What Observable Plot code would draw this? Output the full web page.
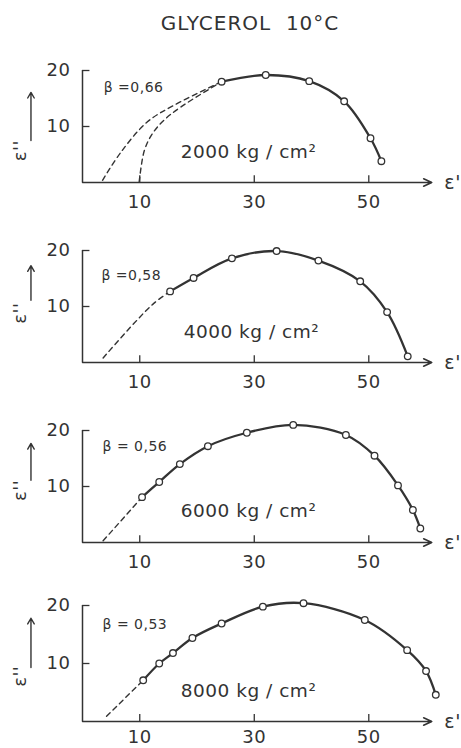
<!DOCTYPE html>
<html><head><meta charset="utf-8">
<script src="https://cdn.jsdelivr.net/npm/d3@7"></script>
<script src="https://cdn.jsdelivr.net/npm/@observablehq/plot@0.6"></script>
<style>
body{margin:0;background:#fff;width:461px;font-family:"DejaVu Sans",sans-serif;}
#title{height:50px;text-align:center;font-size:20px;letter-spacing:1px;color:#333;line-height:1;padding-top:13px;box-sizing:border-box;padding-left:39px;}
svg{display:block;overflow:visible}
svg text{letter-spacing:0.5px}
</style></head><body>
<div id="title">GLYCEROL&nbsp;&nbsp;10°C</div>
<div id="chart"></div>
<script>
// ---- data ----
const xTicks = [10, 30, 50];
const yTicks = [10, 20];
const pressures = ["2000 kg / cm²", "4000 kg / cm²", "6000 kg / cm²", "8000 kg / cm²"];
const betas = ["β =0,66", "β =0,58", "β = 0,56", "β = 0,53"];

// measured points (ε', ε'')
const e1_2000 = [24.3, 32.0, 39.6, 45.7, 50.3, 52.2];
const e2_2000 = [18.0, 19.2, 18.1, 14.5, 7.9, 3.8];
const e1_4000 = [15.3, 19.4, 26.1, 33.9, 41.2, 48.5, 53.2, 56.8];
const e2_4000 = [12.7, 15.1, 18.6, 19.9, 18.2, 14.5, 9.0, 1.1];
const e1_6000 = [10.4, 13.4, 17.0, 21.9, 28.7, 36.8, 46.0, 51.0, 55.1, 57.7, 59.0];
const e2_6000 = [8.1, 10.8, 14.0, 17.2, 19.6, 21.0, 19.2, 15.5, 10.2, 5.8, 2.5];
const e1_8000 = [10.6, 13.4, 15.8, 19.2, 24.3, 31.5, 38.6, 49.3, 56.7, 60.0, 61.7];
const e2_8000 = [7.1, 10.0, 11.8, 14.4, 16.9, 19.8, 20.4, 17.5, 12.3, 8.7, 4.6];

// dashed extrapolations
const dA_2000_e1 = [3.5, 6.7, 11.3, 16.0, 24.3];
const dA_2000_e2 = [0.4, 5.4, 10.8, 13.8, 18.0];
const dB_2000_e1 = [9.9, 10.8, 12.2, 14.2, 17.2, 24.3];
const dB_2000_e2 = [0.1, 5.7, 8.7, 11.1, 13.5, 18.0];
const d_4000_e1 = [3.6, 9.0, 12.5, 15.3];
const d_4000_e2 = [0.8, 7.0, 10.6, 12.7];
const d_6000_e1 = [3.6, 10.4];
const d_6000_e2 = [0.3, 8.1];
const d_8000_e1 = [4.2, 10.6];
const d_8000_e2 = [0.9, 7.1];

// ---- assembly ----
const panels = [
  {e1: e1_2000, e2: e2_2000, dashes: [[dA_2000_e1, dA_2000_e2], [dB_2000_e1, dB_2000_e2]], label: pressures[0], beta: betas[0]},
  {e1: e1_4000, e2: e2_4000, dashes: [[d_4000_e1, d_4000_e2]], label: pressures[1], beta: betas[1]},
  {e1: e1_6000, e2: e2_6000, dashes: [[d_6000_e1, d_6000_e2]], label: pressures[2], beta: betas[2]},
  {e1: e1_8000, e2: e2_8000, dashes: [[d_8000_e1, d_8000_e2]], label: pressures[3], beta: betas[3]}
];
const layout = [
  {height: 180, mt: 20, mb: 48, pad: 13, kg: [29, 5.5], bt: [3.7, 17.0], ylab: 5.7, arr: [7.5, 16.1]},
  {height: 180, mt: 20, mb: 48, pad: 13, kg: [29.5, 5.5], bt: [3.3, 15.5], ylab: 8.8, arr: [11.1, 17.3]},
  {height: 180, mt: 20, mb: 48, pad: 13, kg: [29, 5.7], bt: [3.5, 17.2], ylab: 9.3, arr: [11.1, 17.7]},
  {height: 158, mt: 15, mb: 27, pad: 9, kg: [29, 5.2], bt: [3.5, 16.7], ylab: 7.8, arr: [9.3, 17.8]}
];
const ink = "#333";
const chart = document.getElementById("chart");

panels.forEach((p, k) => {
  const L = layout[k];
  const idx = d3.range(p.e1.length);
  const marks = [
    Plot.ruleX([0], {y1: 0, y2: 20, stroke: ink, strokeWidth: 1.5}),
    Plot.arrow([0], {x1: 0, x2: 61, y1: 0, y2: 0, stroke: ink, strokeWidth: 1.5, headLength: 9, headAngle: 50}),
    Plot.ruleX(xTicks, {x: d => d, y1: 0, y2: 1.2, stroke: ink, strokeWidth: 1.3}),
    Plot.ruleY(yTicks, {y: d => d, x1: 0, x2: 1.3, stroke: ink, strokeWidth: 1.3}),
    ...p.dashes.map(([a, b]) => Plot.line(d3.range(a.length), {x: i => a[i], y: i => b[i], stroke: ink, strokeWidth: 1.4, strokeDasharray: "5,4", curve: "catmull-rom"})),
    Plot.line(idx, {x: i => p.e1[i], y: i => p.e2[i], stroke: ink, strokeWidth: 2.3, curve: "catmull-rom"}),
    Plot.dot(idx, {x: i => p.e1[i], y: i => p.e2[i], r: 3.3, fill: "white", stroke: ink, strokeWidth: 1.3}),
    Plot.text([p.label], {x: L.kg[0], y: L.kg[1], text: d => d, fontSize: 18.5, fill: ink}),
    Plot.text([p.beta], {x: L.bt[0], y: L.bt[1], text: d => d, fontSize: 14, fill: ink, textAnchor: "start"}),
    Plot.text(["ε'"], {x: 63.2, y: 0, text: d => d, fontSize: 19, fill: ink, textAnchor: "start"}),
    Plot.text(["ε''"], {x: -10.8, y: L.ylab, text: d => d, fontSize: 18, fill: ink, rotate: -90}),
    Plot.arrow([0], {x1: -9, x2: -9, y1: L.arr[0], y2: L.arr[1], stroke: ink, strokeWidth: 1.4, headLength: 7})
  ];
  const svg = Plot.plot({
    width: 461,
    height: L.height,
    marginLeft: 82,
    marginRight: 24,
    marginTop: L.mt,
    marginBottom: L.mb,
    style: {fontFamily: "DejaVu Sans, sans-serif", fontSize: "18px", color: ink, background: "white", overflow: "visible"},
    x: {domain: [0, 62], ticks: xTicks, tickSize: 0, tickPadding: L.pad, tickFormat: d => String(d), label: null},
    y: {domain: [0, 20], ticks: yTicks, tickSize: 0, tickPadding: 12, tickFormat: d => String(d), label: null},
    marks
  });
  chart.appendChild(svg);
});
</script>
</body></html>
